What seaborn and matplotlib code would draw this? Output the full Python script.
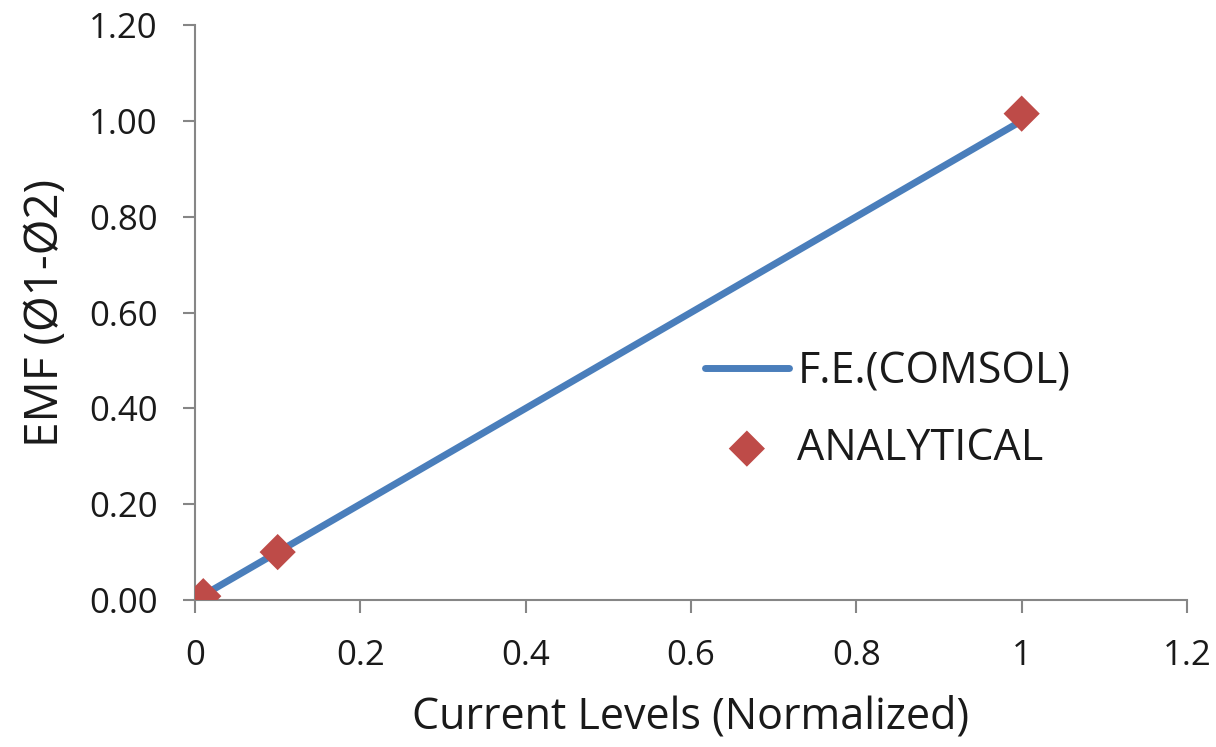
import matplotlib
matplotlib.use("Agg")
import matplotlib.pyplot as plt
import seaborn as sns
import pandas as pd

# Data
fe_x = [0.01, 0.1, 1.0]
fe_y = [0.01, 0.1, 1.0]
an_x = [0.01, 0.1, 1.0]
an_y = [0.008, 0.10, 1.015]
x_ticks = [0, 0.2, 0.4, 0.6, 0.8, 1.0, 1.2]
x_tick_labels = ["0", "0.2", "0.4", "0.6", "0.8", "1", "1.2"]
y_ticks = [0.0, 0.2, 0.4, 0.6, 0.8, 1.0, 1.2]
y_tick_labels = ["0.00", "0.20", "0.40", "0.60", "0.80", "1.00", "1.20"]
series_names = ["F.E.(COMSOL)", "ANALYTICAL"]
x_label = "Current Levels (Normalized)"
y_label = "EMF (Ø1-Ø2)"

sns.set_theme(style="white")
plt.rcParams["font.family"] = ["Open Sans", "DejaVu Sans"]

fig = plt.figure(figsize=(12.16, 7.47), dpi=100)
ax = fig.add_axes([195/1216, 147/747, (1187-195)/1216, (600-25)/747])

fe = pd.DataFrame({"x": fe_x, "y": fe_y})
an = pd.DataFrame({"x": an_x, "y": an_y})

sns.lineplot(data=fe, x="x", y="y", ax=ax, color="#4A7EBB", linewidth=5,
             label=series_names[0], solid_capstyle="round")
sns.scatterplot(data=an, x="x", y="y", ax=ax, color="#BE4B48", marker="D",
                s=340, edgecolor="none", label=series_names[1], zorder=3)

ax.set_xlim(0, 1.2)
ax.set_ylim(0, 1.2)
ax.set_xticks(x_ticks)
ax.set_xticklabels(x_tick_labels)
ax.set_yticks(y_ticks)
ax.set_yticklabels(y_tick_labels)

for s in ["top", "right"]:
    ax.spines[s].set_visible(False)
for s in ["left", "bottom"]:
    ax.spines[s].set_color("#868686")
    ax.spines[s].set_linewidth(1.5)

ax.tick_params(axis="both", which="major", direction="out", length=9,
               width=1.5, color="#868686", labelsize=25, labelcolor="#1a1a1a",
               bottom=True, left=True)
ax.tick_params(axis="x", pad=19)
ax.tick_params(axis="y", pad=18)

ax.set_xlabel(x_label, fontsize=31, color="#1a1a1a", labelpad=16)
ax.set_ylabel(y_label, fontsize=33, color="#1a1a1a", labelpad=14)

leg = ax.legend(loc="center left", bbox_to_anchor=(0.514, 0.33), frameon=False,
                fontsize=31, handlelength=1.95, handletextpad=0.2,
                labelspacing=0.75, borderaxespad=0, borderpad=0,
                labelcolor="#1a1a1a")

fig.savefig("out.png", dpi=100)
